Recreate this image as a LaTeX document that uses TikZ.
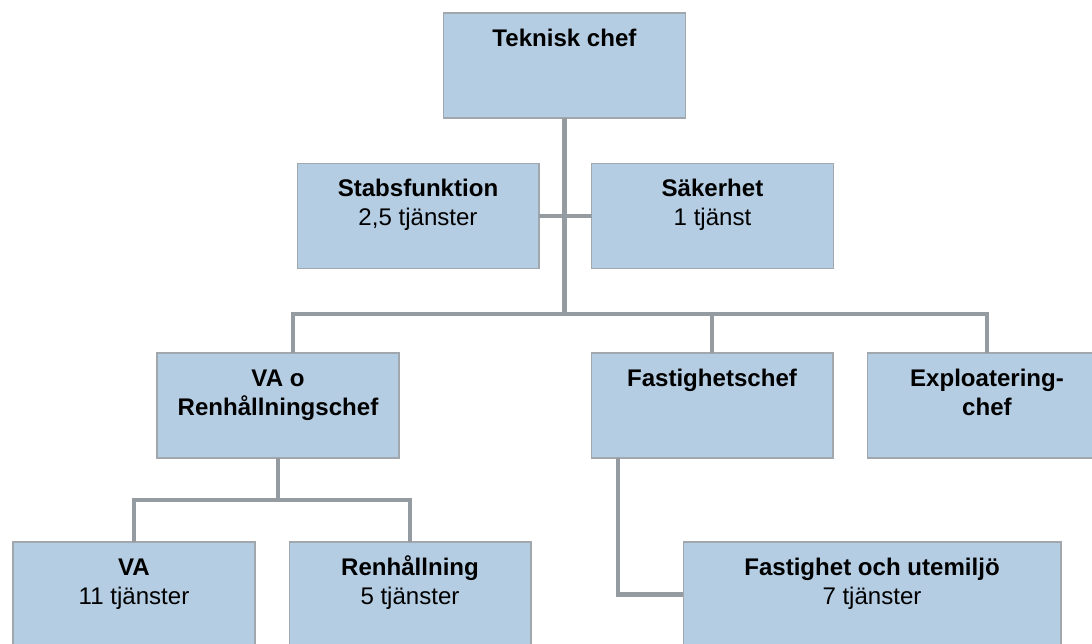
\documentclass[tikz,border=0pt]{standalone}
\usepackage{fontspec}
\setmainfont{Liberation Sans}
\usepackage{tikz}
\usetikzlibrary{calc}
\usepackage{xcolor}
\definecolor{boxfill}{RGB}{180,205,227}
\definecolor{boxline}{RGB}{160,168,174}
\definecolor{connline}{RGB}{148,156,162}
\newcommand{\ttl}[1]{\rule{0pt}{14pt}\textbf{#1}}

\begin{document}
\begin{tikzpicture}[x=0.02cm,y=-0.02cm,
  box/.style={draw=boxline,fill=boxfill,line width=0.6pt,minimum width=4.84cm,minimum height=2.1cm,inner sep=0pt,outer sep=0pt},
  lbl/.style={anchor=north,inner sep=0pt,align=center,font=\fontsize{13.7}{16.5}\selectfont,yshift=-4.6pt},
  conn/.style={draw=connline,line width=2.3pt}]
\useasboundingbox (0,0) rectangle (1092,644);
\clip (0,0) rectangle (1092,644);
\node [box] (tek) at (564.5,65.5) {};
\node [box] (stab) at (418,216) {};
\node [box] (sak) at (712.5,216) {};
\node [box] (varen) at (278,405.5) {};
\node [box] (fchef) at (712,405.5) {};
\node [box,minimum width=4.8cm] (expl) at (987,405.5) {};
\node [box] (va) at (134,594.5) {};
\node [box] (renh) at (410,594.5) {};
\node [box,minimum width=7.56cm] (fut) at (872,594.5) {};
\node [lbl] (tek-t) at (tek.north) {\ttl{Teknisk chef}};
\node [lbl] (stab-t) at (stab.north) {\ttl{Stabsfunktion}\\2,5 tjänster};
\node [lbl] (sak-t) at (sak.north) {\ttl{Säkerhet}\\1 tjänst};
\node [lbl] (varen-t) at (varen.north) {\ttl{VA o}\\\textbf{Renhållningschef}};
\node [lbl] (fchef-t) at (fchef.north) {\ttl{Fastighetschef}};
\node [lbl] (expl-t) at (expl.north) {\ttl{Exploatering-}\\\textbf{chef}};
\node [lbl] (va-t) at (va.north) {\ttl{VA}\\11 tjänster};
\node [lbl] (renh-t) at (renh.north) {\ttl{Renhållning}\\5 tjänster};
\node [lbl] (fut-t) at (fut.north) {\ttl{Fastighet och utemiljö}\\7 tjänster};
\coordinate (bus) at ([yshift=0.78cm]fchef.north);
\coordinate (bus2) at ([yshift=-0.84cm]varen.south);
\draw [conn] (tek.south) -- (tek.south |- bus);
\draw [conn] (stab.east) -- (sak.west);
\draw [conn] ([xshift=0.3cm]varen.north) |- (bus) -| (expl.north);
\draw [conn] (fchef.north) -- (bus);
\draw [conn] (varen.south) -- (bus2);
\draw [conn] (va.north) |- (bus2) -| (renh.north);
\draw [conn] ([xshift=-1.88cm]fchef.south) |- (fut.west);
\end{tikzpicture}
\end{document}
